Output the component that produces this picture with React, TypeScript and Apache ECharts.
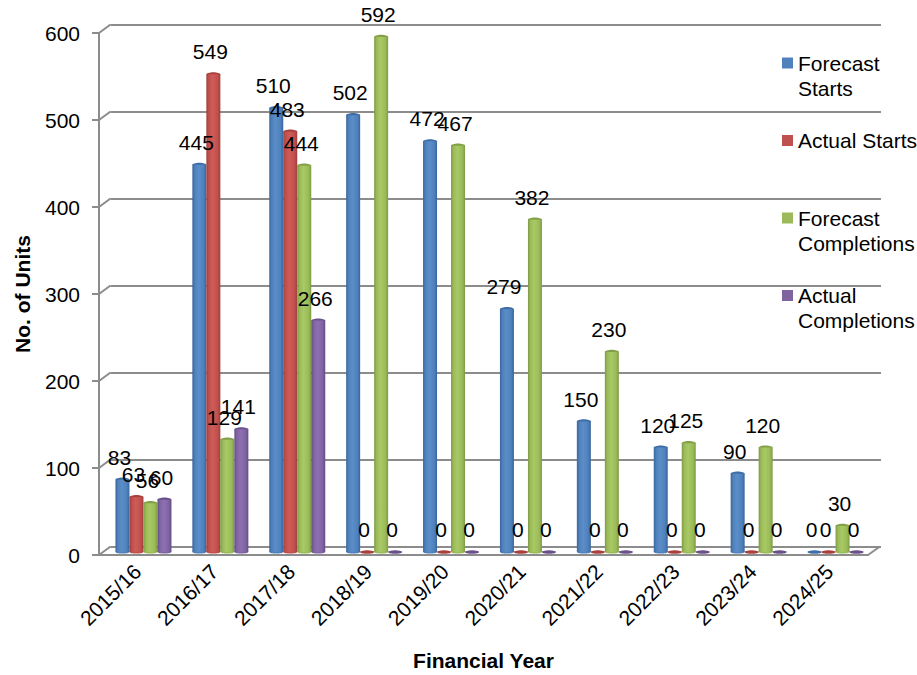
import React, { useEffect, useRef } from "react";
import * as echarts from "echarts";

const categories = ["2015/16", "2016/17", "2017/18", "2018/19", "2019/20", "2020/21", "2021/22", "2022/23", "2023/24", "2024/25"];
const forecastStarts = [83, 445, 510, 502, 472, 279, 150, 120, 90, 0];
const actualStarts = [63, 549, 483, 0, 0, 0, 0, 0, 0, 0];
const forecastCompletions = [56, 129, 444, 592, 467, 382, 230, 125, 120, 30];
const actualCompletions = [60, 141, 266, 0, 0, 0, 0, 0, 0, 0];
const yTicks = [0, 100, 200, 300, 400, 500, 600];

const FONT = "Liberation Sans";
const GREY = "#8c8c8c";
const BAR_W = 14;
const FS = 21;

const seriesDefs = [
  { name: "Forecast Starts", values: forecastStarts, base: "#4f81bd", dark: "#39659b", light: "#5b8ec9", cap: "#3f6ea6" },
  { name: "Actual Starts", values: actualStarts, base: "#c0504d", dark: "#9e3e3b", light: "#cf5b58", cap: "#a8413e" },
  { name: "Forecast Completions", values: forecastCompletions, base: "#9bbb59", dark: "#7d9a44", light: "#a8c964", cap: "#83a048" },
  { name: "Actual Completions", values: actualCompletions, base: "#8064a2", dark: "#634d82", light: "#8d70b1", cap: "#6a5189" },
];

// The legend centres its swatch on the text block; the blank lines put the swatch on the first written line.
const legendLabels: Record<string, string> = {
  "Forecast Starts": "\nForecast\nStarts",
  "Actual Starts": "\nActual Starts\n",
  "Forecast Completions": "\nForecast\nCompletions",
  "Actual Completions": "\nActual\nCompletions",
};

function sideGradient(d: { dark: string; base: string; light: string }) {
  return new echarts.graphic.LinearGradient(0, 0, 1, 0, [
    { offset: 0, color: d.dark },
    { offset: 0.18, color: d.base },
    { offset: 0.45, color: d.light },
    { offset: 0.8, color: d.base },
    { offset: 1, color: d.dark },
  ]);
}

export default function App() {
  const ref = useRef<HTMLDivElement>(null);
  useEffect(() => {
    const chart = echarts.init(ref.current!, null, { renderer: "svg" });
    const capData: number[][] = [];
    seriesDefs.forEach((d, s) => d.values.forEach((v, c) => capData.push([c, v, s])));

    const option: any = {
      animation: false,
      backgroundColor: "#ffffff",
      textStyle: { fontFamily: FONT, color: "#000" },
      grid: [
        { left: 99, top: 33, width: 769, height: 522, outerBoundsMode: "none" },
        { left: 105, top: 30, width: 769, height: 522, outerBoundsMode: "none" },
        { left: 110.5, top: 24.5, width: 770.5, height: 522, outerBoundsMode: "none" },
      ],
      xAxis: [
        {
          gridIndex: 0,
          type: "category",
          data: categories,
          name: "Financial Year",
          nameLocation: "middle",
          nameGap: 95,
          nameTextStyle: { fontFamily: FONT, fontWeight: "bold", fontSize: FS, color: "#000" },
          axisLine: { lineStyle: { color: GREY, width: 2 } },
          axisTick: { length: 6, lineStyle: { color: GREY, width: 2 } },
          axisLabel: { rotate: 45, margin: 13, interval: 0, fontFamily: FONT, fontSize: FS, color: "#000" },
        },
        { gridIndex: 1, type: "category", data: categories, show: false },
        { gridIndex: 2, type: "category", data: categories, show: false },
      ],
      yAxis: [
        {
          gridIndex: 0,
          type: "value",
          min: 0,
          max: 600,
          interval: 100,
          name: "No. of Units",
          nameLocation: "middle",
          nameGap: 66,
          nameTextStyle: { fontFamily: FONT, fontWeight: "bold", fontSize: FS, color: "#000" },
          axisLine: { show: true, lineStyle: { color: GREY, width: 2 } },
          axisTick: { show: true, length: 7, lineStyle: { color: GREY, width: 2 } },
          axisLabel: { margin: 19, fontFamily: FONT, fontSize: FS, color: "#000" },
          splitLine: { show: false },
        },
        { gridIndex: 1, type: "value", min: 0, max: 600, interval: 100, show: false, splitLine: { show: false } },
        {
          gridIndex: 2,
          type: "value",
          min: 0,
          max: 600,
          interval: 100,
          axisLine: { show: false },
          axisTick: { show: false },
          axisLabel: { show: false },
          splitLine: { show: true, lineStyle: { color: GREY, width: 2 } },
        },
      ],
      legend: {
        orient: "vertical",
        left: 782,
        top: 25.5,
        padding: 0,
        itemWidth: 11,
        itemHeight: 11,
        itemGap: 2.5,
        icon: "rect",
        formatter: (n: string) => legendLabels[n],
        textStyle: { fontFamily: FONT, fontSize: FS, color: "#000", lineHeight: 25 },
        data: seriesDefs.map((d) => ({ name: d.name, itemStyle: { color: d.base } })),
      },
      series: [
        {
          // depth connectors between the front axis and the back wall
          type: "custom",
          silent: true,
          xAxisIndex: 0,
          yAxisIndex: 0,
          data: yTicks.map((t) => [0, t]),
          renderItem: (params: any, api: any) => {
            const p = api.coord([0, api.value(1)]);
            const x0 = params.coordSys.x;
            const style = { stroke: GREY, lineWidth: 2, fill: null };
            const kids: any[] = [
              { type: "line", shape: { x1: x0, y1: p[1], x2: x0 + 11.5, y2: p[1] - 8.5 }, style },
            ];
            if (api.value(1) === 0) {
              const xr = x0 + params.coordSys.width;
              kids.push({ type: "line", shape: { x1: xr, y1: p[1], x2: xr + 12, y2: p[1] - 8.5 }, style });
            }
            return { type: "group", children: kids };
          },
          z: 1,
        },
        ...seriesDefs.map((d) => ({
          name: d.name,
          type: "bar",
          xAxisIndex: 1,
          yAxisIndex: 1,
          data: d.values,
          barWidth: BAR_W,
          barGap: 0,
          itemStyle: { color: sideGradient(d) },
          label: {
            show: true,
            position: "top",
            distance: 12,
            offset: [-3, 0],
            fontFamily: FONT,
            fontSize: FS,
            color: "#000",
          },
        })),
        {
          // rounded tops of the columns, and the flat discs of the zero values
          type: "custom",
          silent: true,
          xAxisIndex: 1,
          yAxisIndex: 1,
          data: capData,
          encode: { x: 0, y: 1 },
          renderItem: (_p: any, api: any) => {
            const c = api.value(0);
            const v = api.value(1);
            const s = api.value(2);
            const p = api.coord([c, v]);
            const base = api.coord([c, 0]);
            const cx = p[0] + (s - 1.5) * BAR_W;
            const d = seriesDefs[s];
            return {
              type: "group",
              children: [
                { type: "ellipse", shape: { cx, cy: base[1], rx: BAR_W / 2, ry: 1.6 }, style: { fill: d.base } },
                { type: "ellipse", shape: { cx, cy: p[1], rx: BAR_W / 2, ry: v === 0 ? 1.6 : 2.2 }, style: { fill: d.cap } },
              ],
            };
          },
        },
      ],
    };
    chart.setOption(option);
    return () => chart.dispose();
  }, []);
  return <div ref={ref} style={{ position: "fixed", left: 0, top: 0, width: 917, height: 675 }} />;
}
